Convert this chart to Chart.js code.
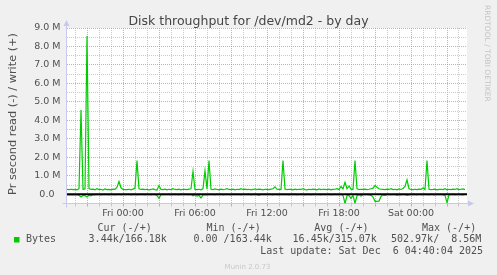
<!DOCTYPE html>
<html>
<head>
<meta charset="utf-8">
<script src="https://cdn.jsdelivr.net/npm/chart.js@4/dist/chart.umd.min.js"></script>
<style>
html, body { margin: 0; padding: 0; background: #f0f0f0; }
canvas { display: block; }
</style>
</head>
<body>
<canvas id="chart" width="497" height="275"></canvas>
<script>
// --- Time range (hours relative to Fri 00:00), one sample per 10 min ---
const startHour = -14 / 3;   // Thu 19:20
const endHour = 86 / 3;      // Sat 04:40
const stepHour = 1 / 6;

// --- Series values, kB/s ---
const writeK = [
    260,250,270,250,260,240,300,4560,270,290,
    8560,310,260,280,240,300,250,270,230,290,
    250,260,240,280,260,380,690,350,260,250,
    250,270,240,280,330,1820,300,260,280,250,
    270,240,260,290,250,230,470,260,250,280,
    240,270,250,300,260,250,280,240,270,260,
    250,280,300,1240,260,250,270,240,310,1280,
    280,1820,270,250,290,260,240,280,250,270,
    300,260,250,280,240,270,250,300,260,280,
    250,270,240,260,290,250,280,260,240,270,
    260,250,280,300,400,270,260,250,1820,280,
    250,270,260,240,280,250,270,260,300,250,
    240,270,250,280,260,240,290,250,270,260,
    250,280,240,260,270,300,250,420,300,650,
    300,450,280,260,1820,300,250,270,260,280,
    250,270,300,330,470,380,300,270,260,250,
    280,260,300,250,270,240,290,260,310,420,
    780,300,260,250,270,250,280,260,350,260,
    1820,270,250,260,280,240,260,270,250,300,
    240,270,250,280,260,300,250,270,290,250
];
const readK = [
    -20,-30,-20,-40,-30,-20,-60,-150,-60,-80,
    -150,-50,-80,-20,-30,-10,-20,-40,-20,-10,
    -20,-30,-10,-20,-40,-20,-10,-30,-20,-10,
    -20,-10,-30,-20,-10,-40,-20,-10,-20,-30,
    -10,-20,-30,-10,-20,-60,-220,-30,-10,-20,
    -20,-10,-30,-20,-10,-20,-30,-10,-20,-10,
    -20,-30,-10,-80,-20,-100,-60,-200,-40,-20,
    -30,-20,-10,-20,-30,-10,-20,-10,-30,-20,
    -10,-20,-30,-10,-20,-10,-20,-30,-10,-20,
    -20,-10,-30,-20,-10,-20,-60,-10,-20,-10,
    -20,-10,-20,-30,-10,-20,-30,-10,-20,-10,
    -20,-30,-10,-20,-10,-30,-20,-10,-20,-30,
    -10,-20,-30,-10,-20,-10,-20,-30,-10,-20,
    -20,-10,-30,-20,-10,-20,-30,-10,-60,-500,
    -80,-60,-220,-60,-480,-80,-20,-100,-30,-10,
    -20,-30,-60,-150,-380,-380,-370,-120,-30,-60,
    -20,-10,-30,-20,-10,-60,-20,-30,-10,-20,
    -60,-30,-20,-10,-20,-30,-10,-20,-30,-10,
    -20,-30,-10,-20,-30,-10,-20,-10,-30,-60,
    -450,-40,-20,-10,-30,-20,-10,-20,-30,-10
];

// --- Tick labels ---
const xTickHours = [0, 6, 12, 18, 24];
const xTickLabels = ["Fri 00:00", "Fri 06:00", "Fri 12:00", "Fri 18:00", "Sat 00:00"];
const yTickM = [0, 1, 2, 3, 4, 5, 6, 7, 8, 9];
const yTickLabels = ["0.0\u2007", "1.0 M", "2.0 M", "3.0 M", "4.0 M", "5.0 M", "6.0 M", "7.0 M", "8.0 M", "9.0 M"];

// --- Legend texts ---
const legendHeads = ["Cur (-/+)", "Min (-/+)", "Avg (-/+)", "Max (-/+)"];
const legendValues = ["3.44k/166.18k", "0.00 /163.44k", "16.45k/315.07k", "502.97k/  8.56M"];
const lastUpdate = "Last update: Sat Dec  6 04:40:04 2025";

const GREEN = "#00cc00";
const MAJOR = "rgba(225,120,120,0.7)";
const MINOR = "rgba(185,185,185,0.75)";
const TEXT = "#505050";

const toPoints = arr => arr.map((k, i) => ({ x: startHour + i * stepHour, y: k * 1000 }));

const munin = {
    id: "munin",
    beforeDraw(chart) {
        const { ctx, chartArea: a } = chart;
        ctx.save();
        ctx.fillStyle = "#f0f0f0";
        ctx.fillRect(0, 0, chart.width, chart.height);
        ctx.fillStyle = "#ffffff";
        ctx.fillRect(a.left, a.top, a.right - a.left, a.bottom - a.top);
        ctx.restore();
    },
    beforeDatasetsDraw(chart) {
        const { ctx, chartArea: a } = chart;
        const lx = Math.round(a.left) - 0.5, by = Math.round(a.bottom) - 0.5;
        ctx.save();
        ctx.strokeStyle = "#c6c8f0";
        ctx.fillStyle = "#c6c8f0";
        ctx.lineWidth = 1;
        ctx.beginPath();
        ctx.moveTo(lx, by + 4); ctx.lineTo(lx, a.top - 4);
        ctx.moveTo(lx - 4, by); ctx.lineTo(a.right + 3, by);
        ctx.stroke();
        ctx.beginPath();
        ctx.moveTo(lx, a.top - 8); ctx.lineTo(lx - 3, a.top - 2); ctx.lineTo(lx + 3, a.top - 2); ctx.closePath();
        ctx.moveTo(a.right + 7, by); ctx.lineTo(a.right + 1, by - 3); ctx.lineTo(a.right + 1, by + 3); ctx.closePath();
        ctx.fill();
        ctx.restore();
    },
    afterDraw(chart) {
        const ctx = chart.ctx;
        ctx.save();
        ctx.fillStyle = "#454545";
        ctx.font = "12.5px 'DejaVu Sans'";
        ctx.textAlign = "center";
        ctx.textBaseline = "alphabetic";
        ctx.fillText("Disk throughput for /dev/md2 - by day", 248.5, 25);

        ctx.save();
        ctx.translate(13, 114);
        ctx.rotate(-Math.PI / 2);
        ctx.fillStyle = TEXT;
        ctx.font = "11.3px 'DejaVu Sans'";
        ctx.textBaseline = "middle";
        ctx.fillText("Pr second read (-) / write (+)", 0, 0);
        ctx.restore();

        ctx.save();
        ctx.translate(487, 5);
        ctx.rotate(Math.PI / 2);
        ctx.fillStyle = "#c4c4c4";
        ctx.font = "7.5px 'DejaVu Sans'";
        ctx.textAlign = "left";
        ctx.textBaseline = "middle";
        ctx.fillText("RRDTOOL / TOBI OETIKER", 0, 0);
        ctx.restore();

        // legend
        ctx.font = "10px 'DejaVu Sans Mono'";
        ctx.fillStyle = TEXT;
        ctx.textAlign = "left";
        ctx.textBaseline = "middle";
        const headX = [97.5, 206.5, 314.3, 422];
        const valX = [88.6, 193.5, 292.6, 391];
        legendHeads.forEach((t, i) => ctx.fillText(t, headX[i], 228));
        legendValues.forEach((t, i) => ctx.fillText(t, valX[i], 239.5));
        ctx.fillText("Bytes", 26, 239.5);
        ctx.textAlign = "right";
        ctx.fillText(lastUpdate, 483, 251.7);
        ctx.fillStyle = GREEN;
        ctx.fillRect(14, 237, 5.5, 5.5);

        ctx.fillStyle = "#c8c8c8";
        ctx.font = "7px 'DejaVu Sans'";
        ctx.textAlign = "center";
        ctx.fillText("Munin 2.0.73", 247.5, 267);
        ctx.restore();
    }
};

new Chart(document.getElementById("chart"), {
    type: "line",
    data: {
        datasets: [
            { label: "zero", data: [{ x: startHour, y: 0 }, { x: endHour, y: 0 }], borderColor: "#000", borderWidth: 2, order: 0 },
            { label: "write", data: toPoints(writeK), borderColor: GREEN, borderWidth: 1.2, order: 1 },
            { label: "read", data: toPoints(readK), borderColor: GREEN, borderWidth: 1.2, order: 2 }
        ]
    },
    options: {
        responsive: false,
        animation: false,
        events: [],
        layout: { padding: { top: 28, right: 30, bottom: 0, left: 0 } },
        elements: { point: { radius: 0 }, line: { tension: 0 } },
        plugins: { legend: { display: false }, tooltip: { enabled: false }, title: { display: false } },
        scales: {
            x: {
                type: "linear",
                min: startHour,
                max: endHour,
                afterBuildTicks: s => {
                    const t = [];
                    for (let h = -4; h <= 28; h++) t.push({ value: h });
                    s.ticks = t;
                },
                afterFit: s => { s.height = 71.5; },
                grid: {
                    color: c => (c.tick && c.tick.value % 3 === 0 ? MAJOR : MINOR),
                    lineWidth: 1,
                    drawTicks: true,
                    tickLength: 3
                },
                border: { display: false, dash: [1, 1] },
                ticks: {
                    autoSkip: false,
                    maxRotation: 0,
                    padding: 1,
                    color: TEXT,
                    font: { family: "DejaVu Sans", size: 9.5 },
                    callback: v => {
                        const i = xTickHours.indexOf(v);
                        return i >= 0 ? xTickLabels[i] : "";
                    }
                }
            },
            y: {
                min: -500000,
                max: 9000000,
                afterBuildTicks: s => {
                    const t = [];
                    for (let i = -1; i <= 18; i++) t.push({ value: i * 500000 });
                    s.ticks = t;
                },
                afterFit: s => { s.width = 67; },
                grid: {
                    color: c => (c.tick && c.tick.value % 1000000 === 0 ? MAJOR : MINOR),
                    lineWidth: 1,
                    drawTicks: false
                },
                border: { display: false, dash: [1, 1] },
                ticks: {
                    autoSkip: false,
                    padding: 6.5,
                    color: TEXT,
                    font: { family: "DejaVu Sans", size: 9.5 },
                    callback: v => {
                        const i = yTickM.indexOf(v / 1000000);
                        return i >= 0 ? yTickLabels[i] : "";
                    }
                }
            }
        }
    },
    plugins: [munin]
});
</script>
</body>
</html>
